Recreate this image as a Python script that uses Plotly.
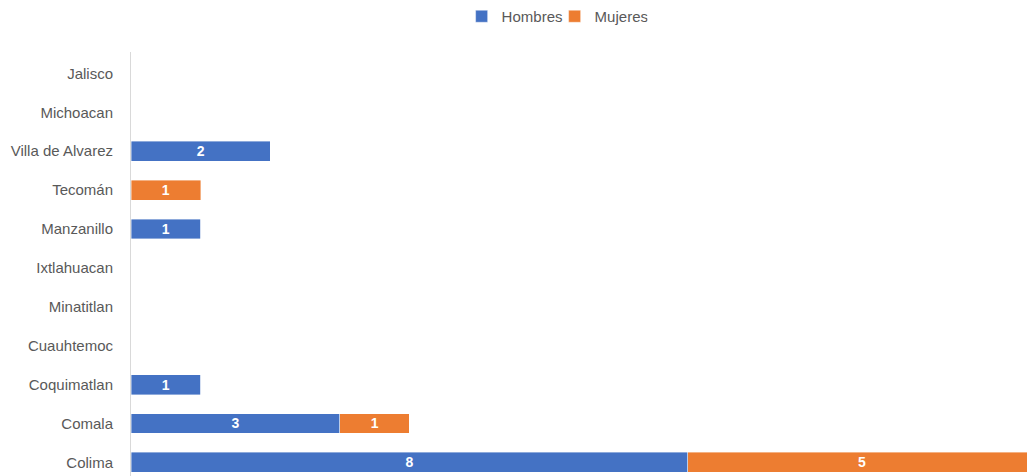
import plotly.graph_objects as go

categorias = ['Colima', 'Comala', 'Coquimatlan', 'Cuauhtemoc', 'Minatitlan', 'Ixtlahuacan',
              'Manzanillo', 'Tecomán', 'Villa de Alvarez', 'Michoacan', 'Jalisco']
hombres = [8, 3, 1, 0, 0, 0, 1, 0, 2, 0, 0]
mujeres = [5, 1, 0, 0, 0, 0, 0, 1, 0, 0, 0]

fuente = 'Liberation Sans'


def etiquetas(valores):
    return ['<b>%d</b>' % v if v else '' for v in valores]


fig = go.Figure()
fig.add_trace(go.Bar(
    y=categorias, x=hombres, name='Hombres', orientation='h',
    marker=dict(color='#4472C4', line=dict(color='#ffffff', width=0.4)),
    text=etiquetas(hombres), textposition='inside', insidetextanchor='middle',
    textfont=dict(color='white', size=14, family=fuente), textangle=0
))
fig.add_trace(go.Bar(
    y=categorias, x=mujeres, name='Mujeres', orientation='h',
    marker=dict(color='#ED7D31', line=dict(color='#ffffff', width=0.4)),
    text=etiquetas(mujeres), textposition='inside', insidetextanchor='middle',
    textfont=dict(color='white', size=14, family=fuente), textangle=0
))

fig.update_layout(
    barmode='stack',
    bargap=0.49,
    width=1027, height=476,
    margin=dict(l=131, r=0, t=52, b=0),
    paper_bgcolor='white', plot_bgcolor='white',
    font=dict(family=fuente, size=15, color='#595959'),
    uniformtext=dict(minsize=14, mode='show'),
    legend=dict(orientation='h', x=0.369, xanchor='left', y=1.085, yanchor='middle',
                font=dict(size=15, color='#595959'), traceorder='normal',
                itemwidth=30, entrywidth=48),
    xaxis=dict(range=[0, 12.87], showgrid=False, zeroline=False, showticklabels=False,
               showline=False),
    yaxis=dict(range=[-0.35, 10.55], showgrid=False, zeroline=False, showline=True,
               linecolor='#D9D9D9', linewidth=1, ticks='', ticklabelstandoff=14,
               tickfont=dict(size=15, color='#595959')),
)

# quitar el margen del body para que la figura ocupe toda la ventana
fig.write_html("out.html", config={'displayModeBar': False},
               post_script="document.body.style.margin='0';document.body.style.overflow='hidden';")
